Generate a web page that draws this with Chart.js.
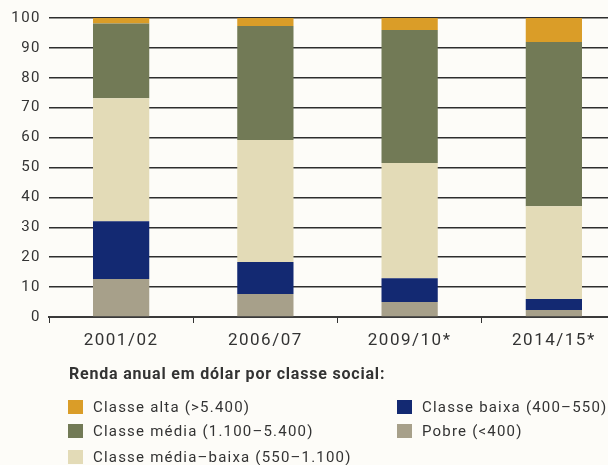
<!DOCTYPE html>
<html>
<head>
<meta charset="utf-8">
<script src="https://cdn.jsdelivr.net/npm/chart.js@4"></script>
<style>
  html, body { margin: 0; padding: 0; background: #fdfcf8; overflow: hidden; width: 608px; height: 465px; }
  #wrap { position: relative; width: 626px; height: 360px; }
  #legend { position: absolute; left: 0; top: 0; width: 608px; height: 465px; font-family: Roboto, "Liberation Sans", sans-serif; color: #333; pointer-events: none; }
  #legend .title { position: absolute; left: 69px; top: 366px; font-weight: bold; font-size: 16px; line-height: 16px; letter-spacing: 0.8px; white-space: nowrap; }
  #legend .item { position: absolute; font-size: 15px; white-space: nowrap; line-height: 14px; height: 14px; letter-spacing: 1.2px; }
  #legend .sw { display: inline-block; width: 15px; height: 14px; vertical-align: top; margin-right: 10px; }
</style>
</head>
<body>
<div id="wrap"><canvas id="chart" width="626" height="360"></canvas></div>
<div id="legend"></div>
<script>
const categories = ['2001/02', '2006/07', '2009/10*', '2014/15*'];
const pobre = [12.7, 7.7, 5.0, 2.3];
const classeBaixa = [19.3, 10.7, 8.0, 3.7];
const classeMediaBaixa = [41.2, 40.8, 38.5, 31.0];
const classeMedia = [25.0, 38.1, 44.5, 55.0];
const classeAlta = [1.8, 2.7, 4.0, 8.0];

const series = [
  { label: 'Pobre (<400)', data: pobre, color: '#a7a08a' },
  { label: 'Classe baixa (400–550)', data: classeBaixa, color: '#132972' },
  { label: 'Classe média–baixa (550–1.100)', data: classeMediaBaixa, color: '#e3dbb7' },
  { label: 'Classe média (1.100–5.400)', data: classeMedia, color: '#727a56' },
  { label: 'Classe alta (>5.400)', data: classeAlta, color: '#da9d28' }
];

const font = 'Roboto, "Liberation Sans", sans-serif';

// wider tick text, like the original typeface
const spacing = {
  id: 'spacing',
  beforeLayout(chart) { chart.ctx.letterSpacing = '1.5px'; },
  beforeDraw(chart) { chart.ctx.letterSpacing = '1.5px'; }
};

new Chart(document.getElementById('chart'), {
  type: 'bar',
  data: {
    labels: categories,
    datasets: series.map(s => ({
      label: s.label,
      data: s.data,
      backgroundColor: s.color,
      borderWidth: 0,
      categoryPercentage: 1,
      barPercentage: 0.39
    }))
  },
  plugins: [spacing],
  options: {
    responsive: false,
    animation: false,
    devicePixelRatio: 1,
    layout: { padding: { top: 18, left: 0, right: 0, bottom: 0 } },
    plugins: { legend: { display: false }, tooltip: { enabled: false } },
    scales: {
      x: {
        stacked: true,
        afterFit: (scale) => { scale.height = 43; },
        grid: { drawOnChartArea: false, drawTicks: true, tickLength: 6, offset: true, color: '#333', lineWidth: 1 },
        border: { display: true, color: '#3a3a3a', width: 2 },
        ticks: { color: '#333', font: { family: font, size: 17 }, padding: 8 }
      },
      y: {
        stacked: true,
        min: 0,
        max: 100,
        afterFit: (scale) => { scale.width = 49; },
        grid: { color: '#2e2e2e', lineWidth: 1.5, drawTicks: false },
        border: { display: false },
        ticks: { stepSize: 10, color: '#333', font: { family: font, size: 15 }, padding: 8 }
      }
    }
  }
});

// legend laid out like the reference: title, then two columns
const legendOrder = [
  { s: series[4], x: 68, y: 400 },
  { s: series[1], x: 397, y: 400 },
  { s: series[3], x: 68, y: 424 },
  { s: series[0], x: 397, y: 424 },
  { s: series[2], x: 68, y: 450 }
];
const legend = document.getElementById('legend');
legend.innerHTML = '<div class="title">Renda anual em dólar por classe social:</div>';
legendOrder.forEach(o => {
  const el = document.createElement('div');
  el.className = 'item';
  el.style.left = o.x + 'px';
  el.style.top = o.y + 'px';
  el.innerHTML = `<span class="sw" style="background:${o.s.color}"></span>${o.s.label}`;
  legend.appendChild(el);
});
</script>
</body>
</html>
